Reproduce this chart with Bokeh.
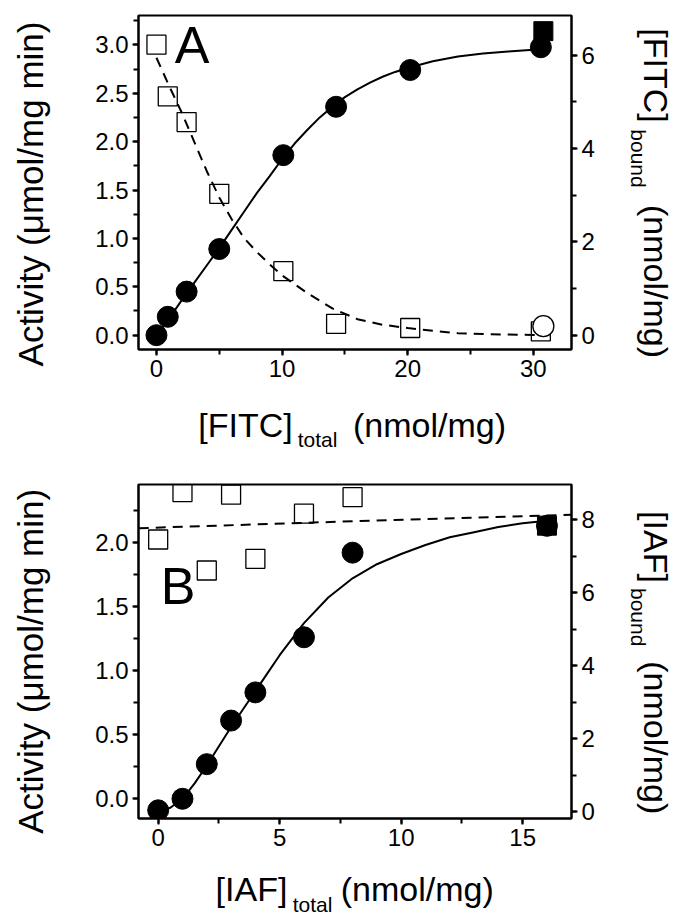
from math import pi
from bokeh.plotting import figure
from bokeh.layouts import column, row
from bokeh.models import (Range1d, LinearAxis, SingleIntervalTicker,
                          PrintfTickFormatter)
from bokeh.core.properties import value
from bokeh.embed import file_html
from bokeh.resources import INLINE

FONT = "Liberation Sans"

# ---------------- Panel A data ----------------
a_x = [0.0, 0.9, 2.4, 5.0, 10.1, 14.3, 20.2, 30.6]
a_activity = [0.0, 0.19, 0.45, 0.89, 1.86, 2.36, 2.74, 2.975]
a_bound = [6.23, 5.12, 4.57, 3.03, 1.37, 0.24, 0.15, 0.08]
a_filled_sq_x = [30.8]
a_filled_sq_y = [6.52]
a_open_circ_x = [30.8]
a_open_circ_y = [0.19]

a_fit_x = [0, 1, 2, 3, 4, 5, 6, 7, 8, 9, 10, 11, 12, 13, 14, 15, 16, 17, 18,
           19, 20, 22, 24, 26, 28, 30, 30.8]
a_fit_y = [0.00, 0.17, 0.36, 0.54, 0.72, 0.90, 1.09, 1.28, 1.47, 1.64, 1.82,
           1.98, 2.12, 2.25, 2.36, 2.46, 2.54, 2.61, 2.67, 2.72, 2.76, 2.83,
           2.88, 2.91, 2.93, 2.95, 2.955]
a_dash_x = [0, 1, 2, 3, 4, 5, 6, 7, 8, 9, 10, 12, 14, 16, 18, 20, 22, 24, 26,
            28, 30, 30.8]
a_dash_y = [5.95, 5.35, 4.78, 4.15, 3.52, 2.95, 2.48, 2.07, 1.78, 1.52, 1.28,
            0.90, 0.57, 0.34, 0.22, 0.15, 0.09, 0.04, 0.02, 0.01, 0.0, 0.0]

# ---------------- Panel B data ----------------
b_x = [0, 1, 2, 3, 4, 6, 8, 16]
b_activity = [-0.09, 0.0, 0.27, 0.61, 0.83, 1.26, 1.92, 2.13]
b_sq_x = [0, 1, 2, 3, 4, 6, 8]
b_bound = [7.46, 8.76, 6.61, 8.69, 6.93, 8.17, 8.62]
b_filled_sq_x = [16]
b_filled_sq_y = [7.84]

b_fit_x = [0, 0.5, 1, 1.5, 2, 2.5, 3, 3.5, 4, 4.5, 5, 6, 7, 8, 9, 10, 11, 12,
           13, 14, 15, 16]
b_fit_y = [-0.10, -0.07, 0.00, 0.12, 0.26, 0.41, 0.56, 0.70, 0.84, 0.98,
           1.12, 1.37, 1.57, 1.72, 1.83, 1.91, 1.98, 2.04, 2.08, 2.12, 2.15,
           2.17]
b_dash_x = [-0.8, 7.5, 17.0]
b_dash_y = [7.77, 7.95, 8.14]

# ---------------- texts ----------------
activity_title = "Activity (\u03bcmol/mg min)"
a_total_parts = ["[FITC]", "total", "(nmol/mg)"]
a_bound_parts = ["[FITC]", "bound", "(nmol/mg)"]
b_total_parts = ["[IAF]", "total", "(nmol/mg)"]
b_bound_parts = ["[IAF]", "bound", "(nmol/mg)"]

# ---------------- layout (pixels) ----------------
W = 675
LW, MW = 60, 560
RW = W - LW - MW
BL, BR = 78, 49
FW = MW - BL - BR          # 433
FH = 334
HA, HBA = 395, 70          # panel A row, A x-title strip
HB, HBB = 398, 52          # panel B row, B x-title strip
A_TOP, B_TOP = 15, 19
A_XR, A_YR, A_YR2 = (-1.43, 33.04), (-0.148, 3.303), (-0.311, 6.856)
B_XR, B_YR, B_YR2 = (-0.81, 17.01), (-0.154, 2.452), (-0.192, 8.969)

TICK_FS = "24px"
TITLE_FS = 35
MAIN_FS = 34
SUB_FS = 21


def style_axis(ax, interval, fmt):
    ax.ticker = SingleIntervalTicker(interval=interval, num_minor_ticks=2)
    ax.formatter = PrintfTickFormatter(format=fmt)
    ax.axis_line_width = 2
    ax.axis_line_color = "black"
    ax.major_tick_line_width = 2
    ax.minor_tick_line_width = 2
    ax.major_tick_line_color = "black"
    ax.minor_tick_line_color = "black"
    ax.major_tick_out = 6
    ax.major_tick_in = 0
    ax.minor_tick_out = 5
    ax.minor_tick_in = 0
    ax.major_label_text_font = FONT
    ax.major_label_text_font_size = TICK_FS
    ax.major_label_text_color = "black"
    ax.major_label_standoff = 4


def make_main(h, top, xr, yr, yr2, xint, yint, yint2):
    p = figure(width=MW, height=h, output_backend="svg", toolbar_location=None,
               title=None, x_range=Range1d(*xr), y_range=Range1d(*yr),
               x_axis_type=None, y_axis_type=None,
               min_border_left=BL, min_border_right=BR,
               min_border_top=top, min_border_bottom=h - top - FH)
    p.extra_y_ranges = {"r": Range1d(*yr2)}
    p.grid.visible = False
    p.outline_line_color = "black"
    p.outline_line_width = 2
    p.background_fill_color = "white"
    p.border_fill_color = "white"
    bx = LinearAxis()
    style_axis(bx, xint, "%d")
    p.add_layout(bx, "below")
    ly = LinearAxis()
    style_axis(ly, yint, "%.1f")
    p.add_layout(ly, "left")
    ry = LinearAxis(y_range_name="r")
    style_axis(ry, yint2, "%d")
    p.add_layout(ry, "right")
    return p


def make_strip(w, h):
    # axis-less figure whose frame covers its whole canvas (1 unit = 1 px)
    p = figure(width=w, height=h, output_backend="svg", toolbar_location=None,
               title=None, x_range=Range1d(0, w), y_range=Range1d(0, h),
               x_axis_type=None, y_axis_type=None,
               min_border_left=0, min_border_right=0,
               min_border_top=0, min_border_bottom=0)
    p.grid.visible = False
    p.outline_line_color = None
    p.background_fill_color = "white"
    p.border_fill_color = "white"
    return p


def put_text(p, h, x0, y0, txt, cx, cy, size, angle=0.0):
    # (cx, cy): centre of the text in page pixels; (x0, y0): strip origin
    p.text(x=[cx - x0], y=[h - (cy - y0)], text=[txt], angle=angle,
           text_font=value(FONT), text_font_size=value(f"{size}px"),
           text_color="black", text_align="center", text_baseline="middle")


def put_panel_letter(p, xr, yr, frame_top, txt, cx, cy):
    x = xr[0] + (cx - (LW + BL)) * (xr[1] - xr[0]) / FW
    y = yr[1] - (cy - frame_top) * (yr[1] - yr[0]) / FH
    p.text(x=[x], y=[y], text=[txt], text_font=value(FONT),
           text_font_size=value("52px"), text_color="black",
           text_align="center", text_baseline="middle")


# ---------------- Panel A ----------------
pa = make_main(HA, A_TOP, A_XR, A_YR, A_YR2, 10, 0.5, 2)
pa.line(a_dash_x, a_dash_y, y_range_name="r", line_color="black",
        line_width=2, line_dash="10 7")
pa.scatter(a_x, a_bound, y_range_name="r", marker="square", size=19,
           fill_color=None, line_color="black", line_width=1.3)
pa.scatter(a_filled_sq_x, a_filled_sq_y, y_range_name="r", marker="square",
           size=19, fill_color="black", line_color="black")
pa.line(a_fit_x, a_fit_y, line_color="black", line_width=2)
pa.scatter(a_x, a_activity, marker="circle", size=21, fill_color="black",
           line_color="black")
pa.scatter(a_open_circ_x, a_open_circ_y, y_range_name="r", marker="circle",
           size=21, fill_color="white", line_color="black", line_width=1.3)
put_panel_letter(pa, A_XR, A_YR, A_TOP, "A", 191.5, 44.2)

la = make_strip(LW, HA)
put_text(la, HA, 0, 0, activity_title, 29.5, 193.5, TITLE_FS, angle=pi / 2)
ra = make_strip(RW, HA)
put_text(ra, HA, LW + MW, 0, a_bound_parts[0], 655, 75, MAIN_FS, angle=-pi / 2)
put_text(ra, HA, LW + MW, 0, a_bound_parts[1], 638, 158, SUB_FS, angle=-pi / 2)
put_text(ra, HA, LW + MW, 0, a_bound_parts[2], 655, 281, MAIN_FS, angle=-pi / 2)

ba = make_strip(W, HBA)
put_text(ba, HBA, 0, HA, a_total_parts[0], 245, 424.5, MAIN_FS)
put_text(ba, HBA, 0, HA, a_total_parts[1], 317, 439.3, SUB_FS)
put_text(ba, HBA, 0, HA, a_total_parts[2], 429, 424.5, MAIN_FS)

# ---------------- Panel B ----------------
YB = HA + HBA
pb = make_main(HB, B_TOP, B_XR, B_YR, B_YR2, 5, 0.5, 2)
pb.line(b_dash_x, b_dash_y, y_range_name="r", line_color="black",
        line_width=2, line_dash="10 7")
pb.scatter(b_sq_x, b_bound, y_range_name="r", marker="square", size=19,
           fill_color=None, line_color="black", line_width=1.3)
pb.scatter(b_filled_sq_x, b_filled_sq_y, y_range_name="r", marker="square",
           size=19, fill_color="black", line_color="black")
pb.line(b_fit_x, b_fit_y, line_color="black", line_width=2)
pb.scatter(b_x, b_activity, marker="circle", size=21, fill_color="black",
           line_color="black")
put_panel_letter(pb, B_XR, B_YR, YB + B_TOP, "B", 177.5, 585.5)

lb = make_strip(LW, HB)
put_text(lb, HB, 0, YB, activity_title, 29.5, 660.8, TITLE_FS, angle=pi / 2)
rb = make_strip(RW, HB)
put_text(rb, HB, LW + MW, YB, b_bound_parts[0], 655, 546.5, MAIN_FS, angle=-pi / 2)
put_text(rb, HB, LW + MW, YB, b_bound_parts[1], 638, 616.7, SUB_FS, angle=-pi / 2)
put_text(rb, HB, LW + MW, YB, b_bound_parts[2], 655, 737.3, MAIN_FS, angle=-pi / 2)

bb = make_strip(W, HBB)
YBB = YB + HB
put_text(bb, HBB, 0, YBB, b_total_parts[0], 251, 888.8, MAIN_FS)
put_text(bb, HBB, 0, YBB, b_total_parts[1], 312, 903.6, SUB_FS)
put_text(bb, HBB, 0, YBB, b_total_parts[2], 416.7, 888.8, MAIN_FS)

# strips are wrapped in their own columns so that Bokeh does not align
# their frames with the neighbouring panel
layout = column(row(column(la), pa, column(ra), spacing=0), ba,
                row(column(lb), pb, column(rb), spacing=0), bb, spacing=0)
open("out.html", "w").write(file_html(layout, INLINE))
